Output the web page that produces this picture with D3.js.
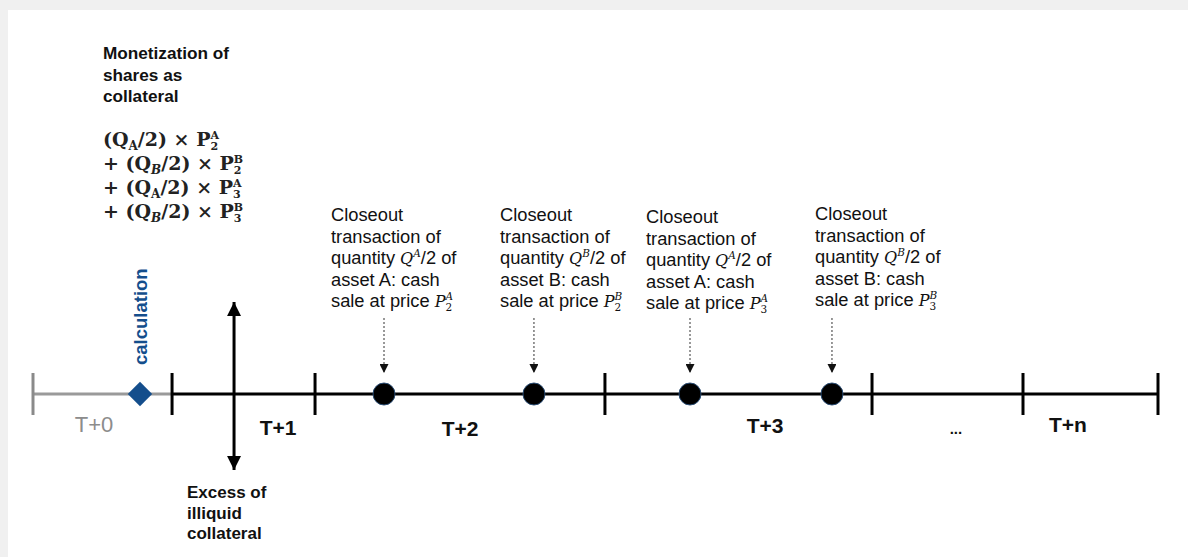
<!DOCTYPE html>
<html><head><meta charset="utf-8">
<script src="https://cdn.jsdelivr.net/npm/d3@7"></script>
<style>body{margin:0;background:#f0f0f0;} svg{display:block;}</style>
</head><body>
<svg id="c" width="1188" height="557"></svg>
<script>
// ---- data (timeline units 0..100) ----
const tickStops = [0, 12.36, 25.07, 50.84, 74.58, 88.0, 100];
const greyUntil = 12.36;
const periodLabels = ["T+0", "T+1", "T+2", "T+3", "...", "T+n"];
const periodCenters = [5.42, 21.78, 37.96, 65.07, 82.04, 92.0];
const calcPoint = 9.51;
const calcLabel = "calculation";
const excessArrowAt = 17.87;
const closeoutPoints = [31.2, 44.53, 58.4, 71.02];
const closeoutAssets = ["A", "B", "A", "B"];
const closeoutDays = ["2", "2", "3", "3"];
const closeoutTextX = [26.49, 41.51, 54.49, 69.51];
const titleLines = ["Monetization of", "shares as", "collateral"];
const excessLines = ["Excess of", "illiquid", "collateral"];
const formulaAssets = ["A", "B", "A", "B"];
const formulaItalic = [false, true, false, true];
const formulaDays = ["2", "2", "3", "3"];

// ---- layout ----
const W = 1188, H = 557;
const svg = d3.select("#c");
svg.append("rect").attr("width", W).attr("height", H).attr("fill", "#f0f0f0");
svg.append("rect").attr("x", 8).attr("y", 10).attr("width", W - 8).attr("height", H - 10).attr("fill", "#fff");

const x = d3.scaleLinear().domain([0, 100]).range([33, 1158]);
const lineY = 394;
const sans = "'Liberation Sans', Arial, sans-serif";
const serif = "'DejaVu Serif', serif";
const blue = "#144e8c";

const defs = svg.append("defs");
defs.append("marker").attr("id", "ah").attr("viewBox", "0 0 10 10").attr("refX", 10).attr("refY", 5)
  .attr("markerWidth", 4.8).attr("markerHeight", 4.8).attr("orient", "auto-start-reverse").attr("markerUnits", "strokeWidth")
  .append("path").attr("d", "M0,0 L10,5 L0,10 Z").attr("fill", "#000");
defs.append("marker").attr("id", "ahs").attr("viewBox", "0 0 10 10").attr("refX", 10).attr("refY", 5)
  .attr("markerWidth", 9).attr("markerHeight", 9).attr("orient", "auto").attr("markerUnits", "userSpaceOnUse")
  .append("path").attr("d", "M0,0 L10,5 L0,10 Z").attr("fill", "#111");

// timeline
svg.append("line").attr("x1", x(0)).attr("x2", x(greyUntil)).attr("y1", lineY).attr("y2", lineY)
  .attr("stroke", "#9a9a9a").attr("stroke-width", 3);
svg.append("line").attr("x1", x(greyUntil)).attr("x2", x(100)).attr("y1", lineY).attr("y2", lineY)
  .attr("stroke", "#000").attr("stroke-width", 3);
svg.selectAll(".tick").data(tickStops).join("line").attr("class", "tick")
  .attr("x1", d => x(d)).attr("x2", d => x(d)).attr("y1", lineY - 21).attr("y2", lineY + 21)
  .attr("stroke", d => d === 0 ? "#8a8a8a" : "#000").attr("stroke-width", 3);

// period labels
svg.selectAll(".plab").data(periodLabels).join("text").attr("class", "plab")
  .attr("x", (d, i) => x(periodCenters[i]))
  .attr("y", (d, i) => [432, 435, 436, 433, 434, 432][i])
  .attr("text-anchor", "middle")
  .attr("font-family", sans)
  .attr("font-size", (d, i) => d === "..." ? 15 : (i === 0 ? 22 : 21))
  .attr("font-weight", (d, i) => i === 0 ? "normal" : "bold")
  .attr("fill", (d, i) => i === 0 ? "#8c8c8c" : "#111")
  .text(d => d);

// calculation diamond
svg.append("path").attr("d", d3.symbol(d3.symbolDiamond2, 380)())
  .attr("transform", `translate(${x(calcPoint)},${lineY})`)
  .attr("fill", blue);
svg.append("text").attr("transform", `translate(${x(calcPoint) + 7},${lineY - 29}) rotate(-90)`)
  .attr("font-family", sans).attr("font-weight", "bold").attr("font-size", 18.5).attr("fill", blue)
  .text(calcLabel);

// excess double arrow
svg.append("line").attr("x1", x(excessArrowAt)).attr("x2", x(excessArrowAt)).attr("y1", 302).attr("y2", 470)
  .attr("stroke", "#000").attr("stroke-width", 3)
  .attr("marker-start", "url(#ah)").attr("marker-end", "url(#ah)");

// closeout dashed arrows & circles
svg.selectAll(".darr").data(closeoutPoints).join("line").attr("class", "darr")
  .attr("x1", d => x(d)).attr("x2", d => x(d)).attr("y1", 318).attr("y2", 373)
  .attr("stroke", "#333").attr("stroke-width", 1).attr("stroke-dasharray", "2,2")
  .attr("marker-end", "url(#ahs)");
svg.selectAll(".cpt").data(closeoutPoints).join("circle").attr("class", "cpt")
  .attr("cx", d => x(d)).attr("cy", lineY).attr("r", 11)
  .attr("fill", "#000").attr("stroke", "#2a4d75").attr("stroke-width", 1);

// title text
const txt = svg.append("g").attr("font-family", sans).attr("fill", "#111");
txt.selectAll(".tl").data(titleLines).join("text").attr("class", "tl")
  .attr("x", 103).attr("y", (d, i) => 59 + i * 21.5)
  .attr("font-size", 17.2).attr("font-weight", "bold").text(d => d);
txt.selectAll(".ex").data(excessLines).join("text").attr("class", "ex")
  .attr("x", 187).attr("y", (d, i) => 498 + i * 20.5)
  .attr("font-size", 17).attr("font-weight", "bold").text(d => d);

// formula
formulaAssets.forEach((a, i) => {
  const y0 = 146 + i * 24;
  const t = svg.append("text").attr("x", 103).attr("y", y0)
    .attr("font-family", serif).attr("font-weight", "bold").attr("font-size", 19).attr("fill", "#222");
  t.append("tspan").text((i === 0 ? "" : "+ ") + "(Q");
  t.append("tspan").attr("font-size", 12).attr("dy", 4)
    .attr("font-style", formulaItalic[i] ? "italic" : "normal").text(a);
  t.append("tspan").attr("dy", -4).text("/2) \u00d7 P");
  const sup = t.append("tspan").attr("font-size", 11).attr("dy", -7).text(a);
  const w = sup.node().getComputedTextLength();
  t.append("tspan").attr("font-size", 11).attr("dx", -w).attr("dy", 11).text(formulaDays[i]);
});

// closeout annotations
closeoutTextX.forEach((cx, k) => {
  const x0 = x(cx);
  const y0 = [221, 221, 223, 220][k];
  const g = svg.append("g").attr("font-family", sans).attr("font-size", 18.3).attr("fill", "#111");
  const L = (j) => g.append("text").attr("x", x0).attr("y", y0 + j * 21.6);
  L(0).text("Closeout");
  L(1).text("transaction of");
  const q = L(2);
  q.append("tspan").text("quantity ");
  q.append("tspan").attr("font-family", serif).attr("font-style", "italic").attr("font-size", 16).text("Q");
  q.append("tspan").attr("font-family", serif).attr("font-style", "italic").attr("font-size", 10.5).attr("dy", -7).text(closeoutAssets[k]);
  q.append("tspan").attr("dy", 7).text("/2 of");
  L(3).text(`asset ${closeoutAssets[k]}: cash`);
  const p = L(4);
  p.append("tspan").text("sale at price ");
  p.append("tspan").attr("font-family", serif).attr("font-style", "italic").attr("font-size", 16).text("P");
  const s = p.append("tspan").attr("font-family", serif).attr("font-style", "italic").attr("font-size", 10.5).attr("dy", -7).text(closeoutAssets[k]);
  const w = s.node().getComputedTextLength();
  p.append("tspan").attr("font-family", serif).attr("font-size", 10.5).attr("dx", -w).attr("dy", 11).text(closeoutDays[k]);
});
</script>
</body></html>
